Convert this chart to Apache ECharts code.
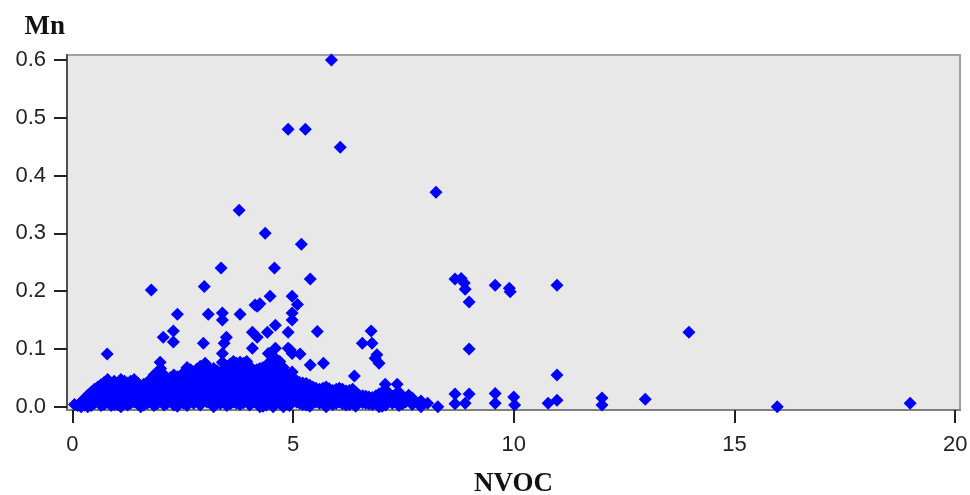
<!DOCTYPE html>
<html>
<head>
<meta charset="utf-8">
<title>Mn vs NVOC</title>
<script src="https://cdn.jsdelivr.net/npm/echarts@6/dist/echarts.min.js"></script>
<style>
  html, body { margin: 0; padding: 0; background: #fff; }
  #chart { width: 970px; height: 495px; }
</style>
</head>
<body>
<div id="chart"></div>
<script>
// tick labels
const xTicks = [0, 5, 10, 15, 20]
const yTicks = [0, 0.1, 0.2, 0.3, 0.4, 0.5, 0.6]

// dense band near the bottom, NVOC 0 - 2.5
const band1 = [
  [0.05, 0.004], [0.2, 0.008], [0.2, 0.0], [0.35, 0.02], [0.35, 0.008], [0.35, 0.0],
  [0.5, 0.03], [0.5, 0.018], [0.5, 0.006], [0.65, 0.038], [0.65, 0.025], [0.65, 0.012], [0.65, 0.002],
  [0.8, 0.047], [0.8, 0.034], [0.8, 0.02], [0.8, 0.008], [0.95, 0.044], [0.95, 0.03], [0.95, 0.016], [0.95, 0.004],
  [1.1, 0.047], [1.1, 0.035], [1.1, 0.022], [1.1, 0.01], [1.1, 0.0], [1.25, 0.041], [1.25, 0.028], [1.25, 0.015], [1.25, 0.003],
  [1.4, 0.047], [1.4, 0.034], [1.4, 0.02], [1.4, 0.008], [1.55, 0.036], [1.55, 0.024], [1.55, 0.012], [1.55, 0.0],
  [1.7, 0.042], [1.7, 0.03], [1.7, 0.018], [1.7, 0.006], [1.85, 0.055], [1.85, 0.04], [1.85, 0.026], [1.85, 0.013], [1.85, 0.002],
  [2.0, 0.066], [2.0, 0.05], [2.0, 0.036], [2.0, 0.022], [2.0, 0.01], [2.15, 0.045], [2.15, 0.032], [2.15, 0.019], [2.15, 0.006],
  [2.3, 0.055], [2.3, 0.042], [2.3, 0.028], [2.3, 0.015], [2.3, 0.003], [2.45, 0.05], [2.45, 0.036], [2.45, 0.022], [2.45, 0.01]
]

// in-between points of the same band, NVOC 0 - 2.5
const band1b = [
  [0.12, 0.002], [0.28, 0.014], [0.28, 0.003], [0.43, 0.025], [0.43, 0.013], [0.43, 0.002],
  [0.58, 0.034], [0.58, 0.022], [0.58, 0.01], [0.72, 0.042], [0.72, 0.03], [0.72, 0.016], [0.72, 0.004],
  [0.88, 0.04], [0.88, 0.027], [0.88, 0.014], [0.88, 0.002], [1.02, 0.04], [1.02, 0.028], [1.02, 0.016], [1.02, 0.004],
  [1.18, 0.044], [1.18, 0.031], [1.18, 0.018], [1.18, 0.006], [1.32, 0.044], [1.32, 0.031], [1.32, 0.018], [1.32, 0.006],
  [1.48, 0.041], [1.48, 0.029], [1.48, 0.017], [1.48, 0.005], [1.62, 0.039], [1.62, 0.027], [1.62, 0.015], [1.62, 0.003],
  [1.78, 0.048], [1.78, 0.035], [1.78, 0.022], [1.78, 0.01], [1.92, 0.058], [1.92, 0.043], [1.92, 0.03], [1.92, 0.017], [1.92, 0.005],
  [2.08, 0.055], [2.08, 0.041], [2.08, 0.028], [2.08, 0.015], [2.08, 0.003], [2.22, 0.05], [2.22, 0.037], [2.22, 0.024], [2.22, 0.011],
  [2.38, 0.052], [2.38, 0.039], [2.38, 0.026], [2.38, 0.013], [2.38, 0.001]
]

// NVOC 2.5 - 5
const band2 = [
  [2.6, 0.068], [2.6, 0.054], [2.6, 0.04], [2.6, 0.027], [2.6, 0.014], [2.6, 0.002],
  [2.75, 0.06], [2.75, 0.046], [2.75, 0.032], [2.75, 0.018], [2.75, 0.006],
  [2.9, 0.07], [2.9, 0.055], [2.9, 0.041], [2.9, 0.028], [2.9, 0.015], [2.9, 0.003],
  [3.05, 0.062], [3.05, 0.048], [3.05, 0.034], [3.05, 0.02], [3.05, 0.008],
  [3.2, 0.066], [3.2, 0.052], [3.2, 0.038], [3.2, 0.025], [3.2, 0.012], [3.2, 0.0],
  [3.35, 0.058], [3.35, 0.044], [3.35, 0.03], [3.35, 0.017], [3.35, 0.005],
  [3.5, 0.07], [3.5, 0.056], [3.5, 0.042], [3.5, 0.028], [3.5, 0.015], [3.5, 0.002],
  [3.65, 0.078], [3.65, 0.063], [3.65, 0.048], [3.65, 0.034], [3.65, 0.02], [3.65, 0.008],
  [3.8, 0.072], [3.8, 0.058], [3.8, 0.044], [3.8, 0.03], [3.8, 0.016], [3.8, 0.004],
  [3.95, 0.078], [3.95, 0.064], [3.95, 0.05], [3.95, 0.036], [3.95, 0.022], [3.95, 0.01],
  [4.1, 0.062], [4.1, 0.048], [4.1, 0.034], [4.1, 0.02], [4.1, 0.008],
  [4.25, 0.066], [4.25, 0.052], [4.25, 0.038], [4.25, 0.025], [4.25, 0.012], [4.25, 0.0],
  [4.4, 0.07], [4.4, 0.056], [4.4, 0.042], [4.4, 0.028], [4.4, 0.015], [4.4, 0.003],
  [4.55, 0.085], [4.55, 0.07], [4.55, 0.055], [4.55, 0.04], [4.55, 0.026], [4.55, 0.013], [4.55, 0.0],
  [4.7, 0.078], [4.7, 0.062], [4.7, 0.048], [4.7, 0.034], [4.7, 0.02], [4.7, 0.006],
  [4.85, 0.058], [4.85, 0.044], [4.85, 0.03], [4.85, 0.017], [4.85, 0.005]
]

// in-between points, NVOC 2.5 - 5
const band2b = [
  [2.52, 0.059], [2.52, 0.045], [2.52, 0.031], [2.52, 0.018], [2.52, 0.006],
  [2.68, 0.064], [2.68, 0.05], [2.68, 0.036], [2.68, 0.022], [2.68, 0.01],
  [2.82, 0.065], [2.82, 0.05], [2.82, 0.037], [2.82, 0.023], [2.82, 0.01],
  [2.98, 0.066], [2.98, 0.052], [2.98, 0.038], [2.98, 0.024], [2.98, 0.011],
  [3.12, 0.064], [3.12, 0.05], [3.12, 0.036], [3.12, 0.022], [3.12, 0.009],
  [3.28, 0.062], [3.28, 0.048], [3.28, 0.034], [3.28, 0.021], [3.28, 0.008],
  [3.42, 0.064], [3.42, 0.05], [3.42, 0.036], [3.42, 0.022], [3.42, 0.01],
  [3.58, 0.074], [3.58, 0.06], [3.58, 0.045], [3.58, 0.031], [3.58, 0.017], [3.58, 0.005],
  [3.72, 0.075], [3.72, 0.06], [3.72, 0.046], [3.72, 0.032], [3.72, 0.018], [3.72, 0.006],
  [3.88, 0.075], [3.88, 0.061], [3.88, 0.047], [3.88, 0.033], [3.88, 0.019], [3.88, 0.007],
  [4.02, 0.07], [4.02, 0.056], [4.02, 0.042], [4.02, 0.028], [4.02, 0.015], [4.02, 0.003],
  [4.18, 0.064], [4.18, 0.05], [4.18, 0.036], [4.18, 0.022], [4.18, 0.01],
  [4.32, 0.068], [4.32, 0.054], [4.32, 0.04], [4.32, 0.026], [4.32, 0.013], [4.32, 0.001],
  [4.48, 0.078], [4.48, 0.063], [4.48, 0.048], [4.48, 0.034], [4.48, 0.02], [4.48, 0.008],
  [4.62, 0.082], [4.62, 0.066], [4.62, 0.052], [4.62, 0.037], [4.62, 0.023], [4.62, 0.01],
  [4.78, 0.068], [4.78, 0.053], [4.78, 0.039], [4.78, 0.026], [4.78, 0.012], [4.78, 0.0],
  [4.92, 0.053], [4.92, 0.04], [4.92, 0.026], [4.92, 0.013], [4.92, 0.002]
]

// NVOC 5 - 8.3
const band3 = [
  [5.0, 0.048], [5.0, 0.035], [5.0, 0.022], [5.0, 0.01], [5.15, 0.042], [5.15, 0.03], [5.15, 0.018], [5.15, 0.006],
  [5.3, 0.04], [5.3, 0.028], [5.3, 0.015], [5.3, 0.003], [5.45, 0.034], [5.45, 0.022], [5.45, 0.01],
  [5.6, 0.03], [5.6, 0.018], [5.6, 0.006], [5.75, 0.034], [5.75, 0.022], [5.75, 0.01], [5.75, 0.0],
  [5.9, 0.028], [5.9, 0.016], [5.9, 0.004], [6.05, 0.032], [6.05, 0.02], [6.05, 0.008],
  [6.2, 0.027], [6.2, 0.015], [6.2, 0.003], [6.35, 0.03], [6.35, 0.018], [6.35, 0.006],
  [6.5, 0.02], [6.5, 0.008], [6.65, 0.018], [6.65, 0.006], [6.8, 0.016], [6.8, 0.004],
  [6.95, 0.022], [6.95, 0.01], [6.95, 0.0], [7.1, 0.028], [7.1, 0.014], [7.1, 0.003],
  [7.25, 0.018], [7.25, 0.006], [7.4, 0.025], [7.4, 0.012], [7.4, 0.002], [7.55, 0.008],
  [7.62, 0.02], [7.7, 0.015], [7.7, 0.004], [7.9, 0.01], [7.9, 0.0], [8.05, 0.006], [8.28, 0.0]
]

// in-between points, NVOC 5 - 7.5
const band3b = [
  [5.08, 0.045], [5.08, 0.032], [5.08, 0.02], [5.08, 0.008], [5.22, 0.041], [5.22, 0.029], [5.22, 0.016], [5.22, 0.004],
  [5.38, 0.037], [5.38, 0.025], [5.38, 0.012], [5.38, 0.001], [5.52, 0.032], [5.52, 0.02], [5.52, 0.008],
  [5.68, 0.032], [5.68, 0.02], [5.68, 0.008], [5.82, 0.031], [5.82, 0.019], [5.82, 0.007],
  [5.98, 0.03], [5.98, 0.018], [5.98, 0.006], [6.12, 0.03], [6.12, 0.017], [6.12, 0.005],
  [6.28, 0.028], [6.28, 0.016], [6.28, 0.004], [6.42, 0.025], [6.42, 0.013], [6.42, 0.001],
  [6.58, 0.019], [6.58, 0.007], [6.72, 0.017], [6.72, 0.005], [6.88, 0.019], [6.88, 0.007],
  [7.02, 0.025], [7.02, 0.012], [7.02, 0.001], [7.18, 0.023], [7.18, 0.01], [7.32, 0.021], [7.32, 0.009],
  [7.48, 0.016], [7.48, 0.005]
]

// scattered points above the band
const scatterHigh = [
  [5.87, 0.600], [4.89, 0.480], [5.28, 0.480], [6.07, 0.449], [8.24, 0.371], [3.78, 0.340],
  [4.37, 0.300], [5.19, 0.281], [3.37, 0.240], [4.58, 0.240], [5.39, 0.221],
  [8.67, 0.221], [8.81, 0.222], [8.88, 0.214], [8.90, 0.203], [8.99, 0.181],
  [9.58, 0.210], [9.90, 0.205], [9.92, 0.199], [10.98, 0.210], [1.79, 0.202], [2.99, 0.208],
  [4.48, 0.191], [4.98, 0.191], [5.10, 0.177], [4.14, 0.176], [4.19, 0.174], [4.25, 0.178],
  [2.38, 0.160], [3.08, 0.160], [3.40, 0.162], [3.40, 0.150], [3.80, 0.160], [4.98, 0.162], [4.98, 0.150],
  [2.29, 0.131], [2.06, 0.120], [2.29, 0.112], [2.97, 0.110], [3.49, 0.120], [3.44, 0.110],
  [4.08, 0.129], [4.19, 0.120], [4.42, 0.129], [4.60, 0.141], [4.89, 0.129], [5.55, 0.130],
  [6.77, 0.131], [6.57, 0.110], [6.79, 0.110], [6.90, 0.090], [6.95, 0.075], [6.86, 0.084],
  [13.97, 0.129], [8.99, 0.100], [10.98, 0.055]
]

// scattered points just above the band and the low right-hand points
const scatterLow = [
  [0.79, 0.091], [4.08, 0.101], [4.44, 0.092], [4.60, 0.101], [4.94, 0.098], [5.16, 0.091],
  [5.39, 0.072], [4.98, 0.060], [3.40, 0.092], [3.40, 0.077], [3.80, 0.077], [1.99, 0.077],
  [3.01, 0.075], [5.69, 0.075], [6.39, 0.053], [7.09, 0.039], [7.36, 0.039], [4.89, 0.101], [4.98, 0.092],
  [8.67, 0.022], [8.67, 0.005], [8.90, 0.006], [8.99, 0.022], [9.58, 0.023], [9.58, 0.006],
  [10.0, 0.017], [10.02, 0.003], [10.78, 0.006], [10.98, 0.011], [12.0, 0.015], [12.0, 0.003],
  [12.98, 0.013], [15.97, 0.0], [18.98, 0.006]
]

const chart = echarts.init(document.getElementById('chart'))

chart.setOption({
  animation: false,
  grid: {
    left: 67,
    right: 10,
    top: 55,
    bottom: 85,
    outerBoundsMode: 'none',
    show: true,
    backgroundColor: '#e8e8e8',
    borderColor: '#a0a0a0',
    borderWidth: 2
  },
  xAxis: {
    type: 'value',
    min: -0.12,
    max: 20.11,
    name: 'NVOC',
    nameLocation: 'middle',
    nameGap: 61,
    nameTextStyle: {
      fontFamily: 'Liberation Serif',
      fontWeight: 'bold',
      fontSize: 27,
      color: '#111'
    },
    axisLine: { onZero: false, lineStyle: { color: '#808080', width: 2 } },
    axisTick: { customValues: xTicks, length: 13, lineStyle: { color: '#222', width: 2 } },
    axisLabel: {
      customValues: xTicks,
      margin: 24,
      fontFamily: 'Liberation Sans',
      fontSize: 22,
      color: '#222'
    },
    splitLine: { show: false }
  },
  yAxis: {
    type: 'value',
    min: -0.0057,
    max: 0.6085,
    name: 'Mn',
    nameLocation: 'end',
    nameGap: 14,
    nameTextStyle: {
      fontFamily: 'Liberation Serif',
      fontWeight: 'bold',
      fontSize: 27,
      color: '#111',
      align: 'right',
      padding: [0, 2, 0, 0]
    },
    axisLine: { show: true, onZero: false, lineStyle: { color: '#505050', width: 2 } },
    axisTick: { show: true, customValues: yTicks, length: 13, lineStyle: { color: '#222', width: 2 } },
    axisLabel: {
      customValues: yTicks,
      margin: 21,
      fontFamily: 'Liberation Sans',
      fontSize: 22,
      color: '#222',
      formatter: v => v.toFixed(1)
    },
    splitLine: { show: false }
  },
  series: [band1, band1b, band2, band2b, band3, band3b, scatterLow, scatterHigh].map(d => ({
    type: 'scatter',
    data: d,
    symbol: 'diamond',
    symbolSize: 13,
    clip: false,
    itemStyle: { color: '#0000ff', opacity: 1 }
  }))
})
</script>
</body>
</html>
